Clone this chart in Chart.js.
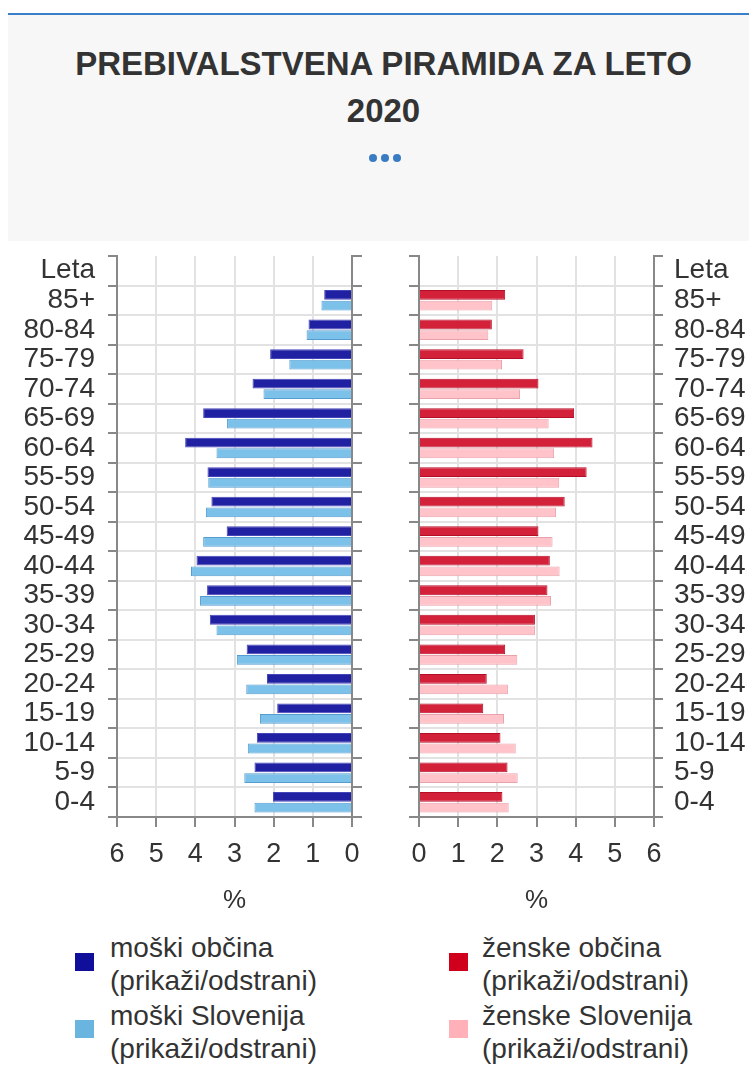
<!DOCTYPE html>
<html><head><meta charset="utf-8">
<script src="https://cdn.jsdelivr.net/npm/chart.js@4.4.1/dist/chart.umd.min.js"></script>
<style>
body{margin:0;width:749px;height:1070px;background:#fff;font-family:"Liberation Sans",Arial,sans-serif;position:relative;overflow:hidden}
#topline{position:absolute;left:8px;top:13px;width:741px;height:2px;background:#3a7fc8}
#panel{position:absolute;left:8px;top:15px;width:741px;height:226px;background:#f7f7f7}
#title{position:absolute;left:13px;width:741px;top:40px;text-align:center;font-weight:bold;font-size:33px;line-height:47px;color:#333}
.dot{position:absolute;top:154px;width:8px;height:8px;border-radius:50%;background:#3a7cc4}
#w1{position:absolute;left:0;top:246px;width:375px;height:680px}
#w2{position:absolute;left:395px;top:246px;width:354px;height:680px}
.sq{position:absolute;width:19px;height:18px}
.lt{position:absolute;font-size:28px;line-height:33px;color:#333;white-space:nowrap}
</style></head>
<body>
<div id="topline"></div>
<div id="panel"></div>
<div id="title">PREBIVALSTVENA PIRAMIDA ZA LETO<br>2020</div>
<div class="dot" style="left:369px"></div>
<div class="dot" style="left:381px"></div>
<div class="dot" style="left:393px"></div>
<div id="w1"><canvas id="c1" width="375" height="680"></canvas></div>
<div id="w2"><canvas id="c2" width="354" height="680"></canvas></div>
<div id="legend"></div>
<script>
const ageGroups = ['Leta','85+','80-84','75-79','70-74','65-69','60-64','55-59','50-54','45-49','40-44','35-39','30-34','25-29','20-24','15-19','10-14','5-9','0-4'];
const maleMunicipality = [null,0.71,1.11,2.09,2.54,3.80,4.26,3.69,3.59,3.20,3.97,3.70,3.63,2.69,2.17,1.91,2.43,2.49,2.02];
const maleSlovenia     = [null,0.78,1.16,1.60,2.26,3.19,3.46,3.67,3.73,3.80,4.11,3.88,3.46,2.94,2.70,2.35,2.66,2.75,2.49];
const femaleMunicipality = [null,2.20,1.86,2.67,3.05,3.96,4.43,4.28,3.72,3.05,3.34,3.28,2.96,2.20,1.73,1.64,2.08,2.26,2.13];
const femaleSlovenia     = [null,1.87,1.77,2.12,2.58,3.31,3.45,3.58,3.50,3.41,3.59,3.37,2.96,2.51,2.27,2.17,2.47,2.52,2.29];
const xTicks = [0,1,2,3,4,5,6];
const seriesNames = ['moški občina','moški Slovenija','ženske občina','ženske Slovenija'];
const legendNote = '(prikaži/odstrani)';
const legendColors = ['#0f0f9c','#6ab4e0','#d0001c','#ffb0b8'];

Chart.defaults.font.family = '"Liberation Sans", Arial, sans-serif';
Chart.defaults.color = '#333';

function noPad(s){ s.paddingTop=0; s.paddingBottom=0; s.paddingLeft=0; s.paddingRight=0; }

function makeChart(id, sets, reverse, labelSide, widths){
  const other = labelSide === 'left' ? 'right' : 'left';
  return new Chart(document.getElementById(id), {
    type:'bar',
    data:{labels:ageGroups, datasets:sets},
    options:{
      indexAxis:'y', responsive:false, animation:false,
      layout:{padding:{top:10,left:0,right:0,bottom:0}},
      plugins:{legend:{display:false}, tooltip:{enabled:false}},
      datasets:{bar:{categoryPercentage:0.72, barPercentage:0.92}},
      scales:{
        x:{reverse:reverse, min:0, max:6,
           afterBuildTicks:s=>{s.ticks = xTicks.map(v=>({value:v}));},
           ticks:{color:'#333', font:{size:27}, padding:11, maxRotation:0, autoSkip:false},
           grid:{color:'#e2e2e2', lineWidth:2, tickColor:'#888', tickLength:10},
           border:{color:'#888', width:2},
           title:{display:true, text:'%', color:'#333', font:{size:26}, padding:{top:0,bottom:10}},
           afterFit:s=>{s.height=109; noPad(s);}},
        y:{position:labelSide, offset:true,
           ticks:{color:'#333', font:{size:28}, padding:labelSide==='left'?13:11, autoSkip:false},
           grid:{offset:true, color:c=>c.index===0?'rgba(0,0,0,0)':'#e2e2e2', lineWidth:2, tickColor:'#888', tickLength:9},
           border:{color:'#888', width:2},
           afterFit:s=>{s.width=widths[0]; noPad(s);}},
        y2:{type:'category', position:other, offset:true,
           ticks:{display:false, autoSkip:false},
           grid:{offset:true, drawOnChartArea:false, lineWidth:2, tickColor:'#888', tickLength:10},
           border:{color:'#888', width:2},
           afterFit:s=>{s.width=widths[1]; noPad(s);}}
      }
    }
  });
}

makeChart('c1', [
  {label:seriesNames[0], data:maleMunicipality, backgroundColor:'#2020a2', borderColor:'#4545ba', borderWidth:1},
  {label:seriesNames[1], data:maleSlovenia, backgroundColor:'#7cc1e9', borderColor:'#559dd0', borderWidth:1}
], true, 'left', [117,23]);

makeChart('c2', [
  {label:seriesNames[2], data:femaleMunicipality, backgroundColor:'#d4213a', borderColor:'#b50f28', borderWidth:1},
  {label:seriesNames[3], data:femaleSlovenia, backgroundColor:'#ffc3c9', borderColor:'#e9a2aa', borderWidth:1}
], false, 'right', [95,24]);

// HTML legend
const lg = document.getElementById('legend');
const pos = [[75,110,953,930.5],[75,110,1020,998.5],[449,482,953,930.5],[449,482,1020,998.5]];
seriesNames.forEach((n,i)=>{
  const [sx,tx,sy,ty] = pos[i];
  const s = document.createElement('div'); s.className='sq';
  s.style.left=sx+'px'; s.style.top=sy+'px'; s.style.background=legendColors[i];
  const t = document.createElement('div'); t.className='lt';
  t.style.left=tx+'px'; t.style.top=ty+'px';
  t.innerHTML = n + '<br>' + legendNote;
  lg.appendChild(s); lg.appendChild(t);
});
</script>
</body></html>
